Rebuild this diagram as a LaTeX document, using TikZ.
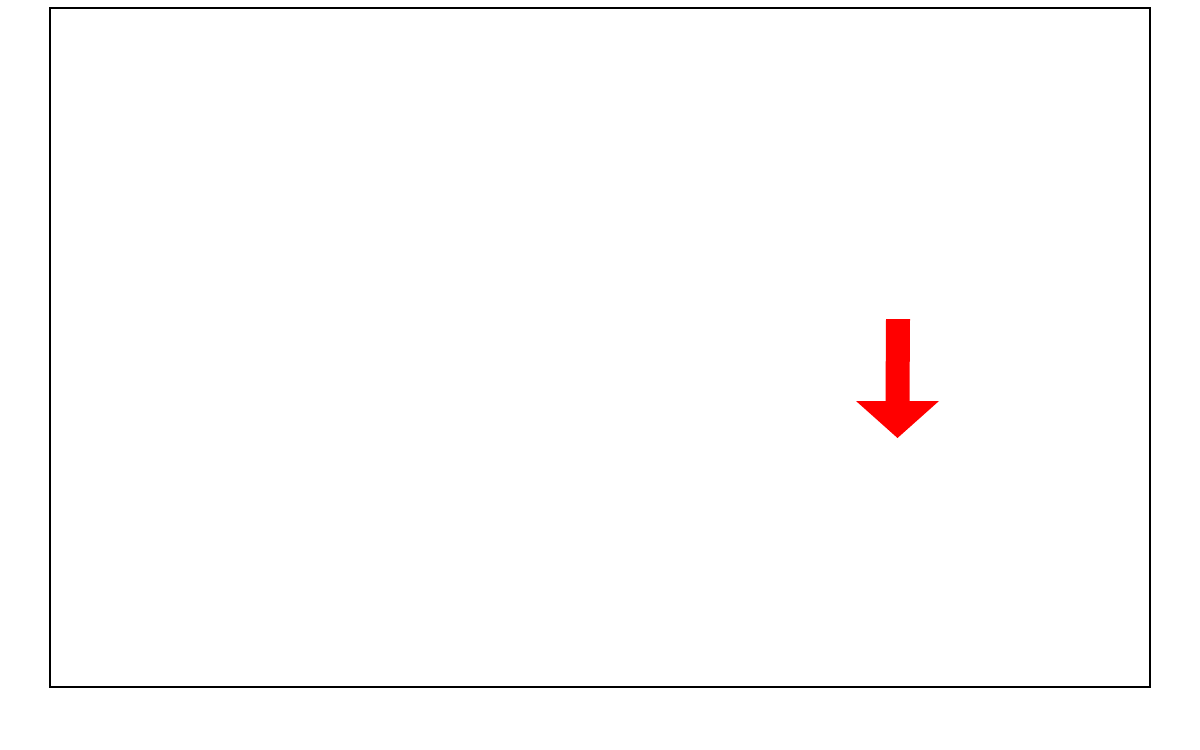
\documentclass[tikz,border=0pt]{standalone}
\begin{document}
\begin{tikzpicture}[x=1pt,y=-1pt,
  frame/.style={draw=black,line width=2pt},
  redarrow/.style={fill=red,draw=none}]
\useasboundingbox (0,0) rectangle (1200,750);
\fill[white] (0,0) rectangle (1200,750);
\draw[frame] (50,8) rectangle (1150,687);
\fill[redarrow] (886,319) -- (910,319) -- (909.5,401) -- (939,401) -- (897.5,438) -- (856,401) -- (885.5,401) -- cycle;
\end{tikzpicture}
\end{document}
